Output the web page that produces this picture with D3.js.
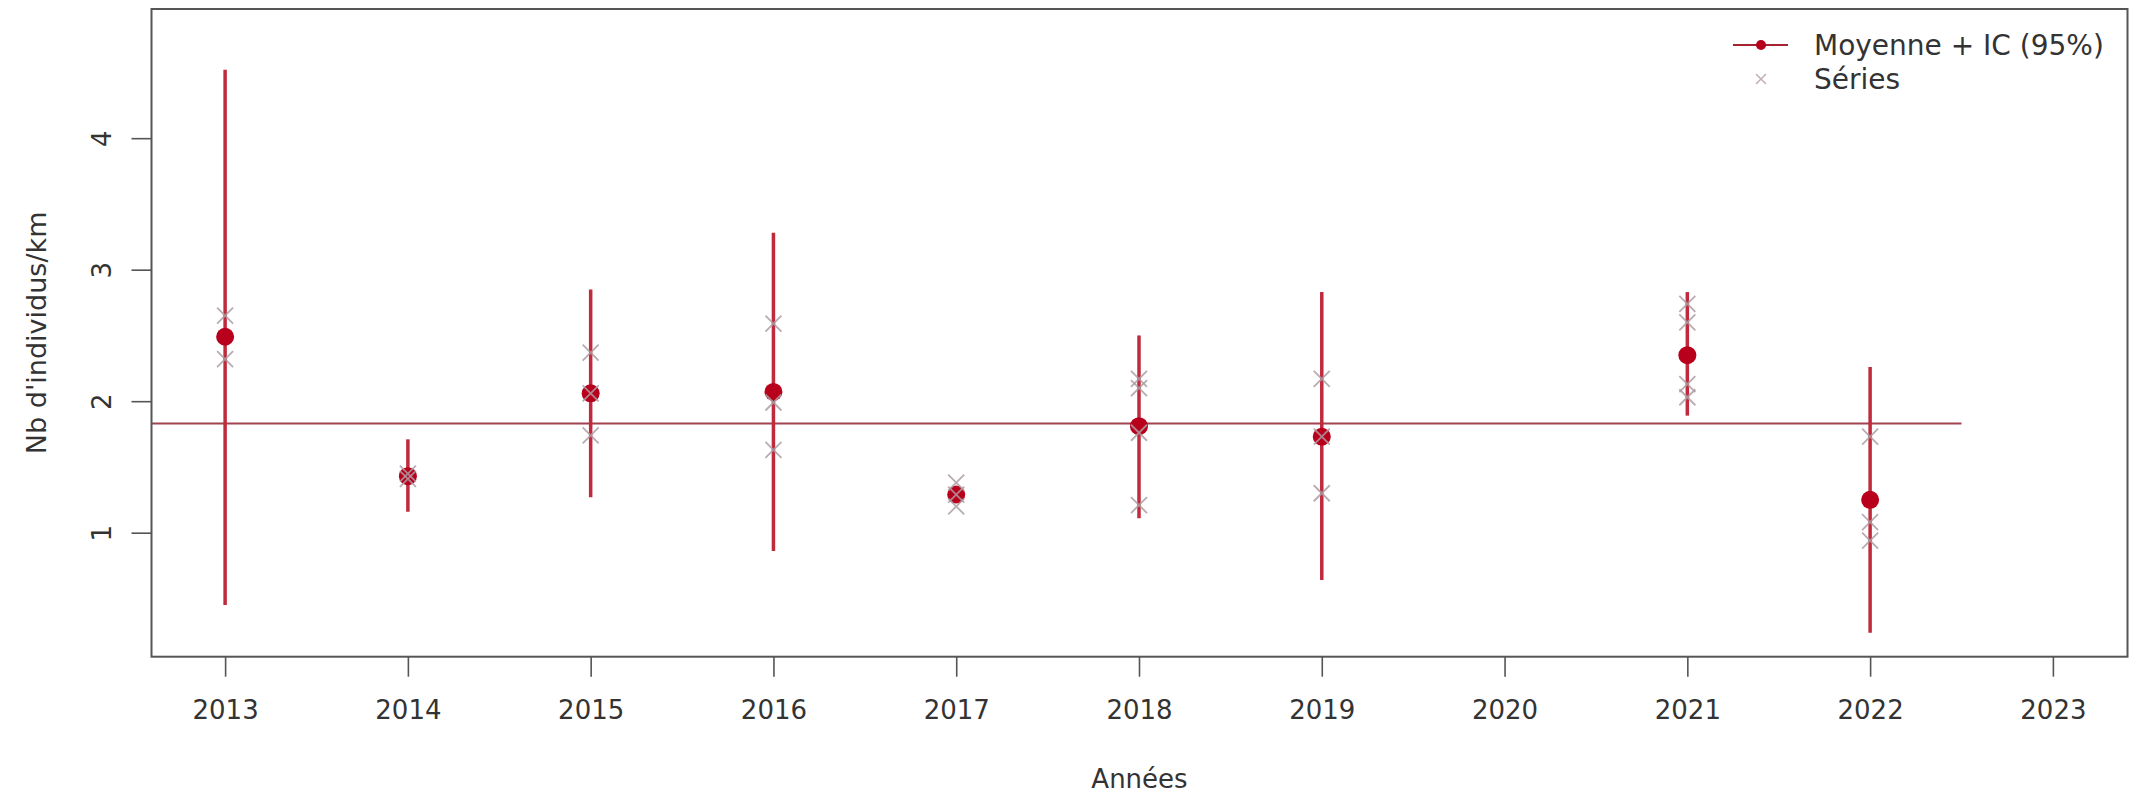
<!DOCTYPE html>
<html>
<head>
<meta charset="utf-8">
<script src="https://cdn.jsdelivr.net/npm/d3@7"></script>
<style>
  html, body { margin: 0; padding: 0; background: #ffffff; }
  svg { display: block; }
  text { font-family: "DejaVu Sans", sans-serif; fill: #333333; }
</style>
</head>
<body>
<svg id="chart" width="2131" height="795"></svg>
<script>
// ---- data ----
const years   = [2013, 2014, 2015, 2016, 2017, 2018, 2019, 2021, 2022];
const means   = [2.49, 1.43, 2.06, 2.07, 1.29, 1.81, 1.73, 2.35, 1.25];
const ciLow   = [0.45, 1.16, 1.27, 0.86, null, 1.11, 0.64, 1.89, 0.24];
const ciHigh  = [4.52, 1.71, 2.85, 3.28, null, 2.50, 2.83, 2.83, 2.26];
const seriesValues = [
  [2.65, 2.32],
  [1.41, 1.45],
  [2.37, 2.06, 1.74],
  [2.59, 1.99, 1.63],
  [1.38, 1.29, 1.20],
  [2.17, 2.10, 1.76, 1.21],
  [2.17, 1.73, 1.30],
  [2.74, 2.60, 2.13, 2.03],
  [1.73, 1.08, 0.94]
];
const xTicks = [2013, 2014, 2015, 2016, 2017, 2018, 2019, 2020, 2021, 2022, 2023];
const yTicks = [1, 2, 3, 4];
const xTitle = "Années";
const yTitle = "Nb d'individus/km";
const legendLabels = ["Moyenne + IC (95%)", "Séries"];
const meanLineSpan = [2012.5, 2022.5];

// ---- layout ----
const svg = d3.select("#chart");
const box = { l: 151.5, r: 2127.5, t: 9, b: 656.7 };
const x = d3.scaleLinear().domain([2012.6, 2023.4]).range([152, 2126]);
const y = d3.scaleLinear().domain([0.057, 4.98]).range([656.7, 9.3]);

const barColor = "#bf2b3d";
const dotColor = "#b8001c";
const crossColor = "#ab9ca3";
const lineColor = "#a3424f";

svg.append("defs").append("clipPath").attr("id", "clip")
  .append("rect").attr("x", box.l).attr("y", box.t)
  .attr("width", box.r - box.l).attr("height", box.b - box.t);

const plot = svg.append("g").attr("clip-path", "url(#clip)");

// overall mean line
const overall = d3.mean(means);
plot.append("line")
  .attr("x1", x(meanLineSpan[0])).attr("x2", x(meanLineSpan[1]))
  .attr("y1", y(overall)).attr("y2", y(overall))
  .attr("stroke", lineColor).attr("stroke-width", 2);

const rows = years.map((yr, i) => ({ yr, m: means[i], lo: ciLow[i], hi: ciHigh[i], s: seriesValues[i] }));

// error bars
plot.selectAll("line.ci").data(rows.filter(d => d.lo != null && d.hi != null)).join("line")
  .attr("class", "ci")
  .attr("x1", d => x(d.yr)).attr("x2", d => x(d.yr))
  .attr("y1", d => y(d.lo)).attr("y2", d => y(d.hi))
  .attr("stroke", barColor).attr("stroke-width", 3.5);

// mean dots
plot.selectAll("circle.mean").data(rows).join("circle")
  .attr("class", "mean")
  .attr("cx", d => x(d.yr)).attr("cy", d => y(d.m)).attr("r", 9)
  .attr("fill", dotColor);

// series crosses
const crossPts = rows.flatMap(d => d.s.map(v => ({ yr: d.yr, v })));
const cs = 8;
plot.selectAll("path.cross").data(crossPts).join("path")
  .attr("class", "cross")
  .attr("transform", d => `translate(${x(d.yr)},${y(d.v)})`)
  .attr("d", `M${-cs},${-cs}L${cs},${cs}M${-cs},${cs}L${cs},${-cs}`)
  .attr("stroke", crossColor).attr("stroke-width", 1.8)
  .attr("fill", "none").attr("opacity", 0.85);

// axes
const xAxis = svg.append("g").attr("transform", `translate(0,${box.b})`)
  .call(d3.axisBottom(x).tickValues(xTicks).tickFormat(d3.format("d")).tickSize(20));
xAxis.select(".domain").remove();
xAxis.selectAll(".tick line").attr("stroke", "#555").attr("stroke-width", 1.6);
xAxis.selectAll("text").attr("y", 62).attr("dy", 0)
  .style("font-size", "26px").attr("fill", "#333");

const yAxis = svg.append("g").attr("transform", `translate(${box.l},0)`)
  .call(d3.axisLeft(y).tickValues(yTicks).tickFormat(d3.format("d")).tickSize(20));
yAxis.select(".domain").remove();
yAxis.selectAll(".tick line").attr("stroke", "#555").attr("stroke-width", 1.6);
yAxis.selectAll("text").attr("x", 0).attr("y", 0).attr("dy", 0)
  .attr("text-anchor", "middle")
  .attr("transform", "translate(-41,0) rotate(-90)")
  .style("font-size", "26px").attr("fill", "#333");

// box
svg.append("rect").attr("x", box.l).attr("y", box.t)
  .attr("width", box.r - box.l).attr("height", box.b - box.t)
  .attr("fill", "none").attr("stroke", "#555").attr("stroke-width", 2);

// titles
svg.append("text").attr("x", (box.l + box.r) / 2).attr("y", 788)
  .attr("text-anchor", "middle").style("font-size", "26px").text(xTitle);
svg.append("text").attr("transform", `translate(46,${(box.t + box.b) / 2}) rotate(-90)`)
  .attr("text-anchor", "middle").style("font-size", "27px").text(yTitle);

// legend
const lg = svg.append("g");
lg.append("line").attr("x1", 1733).attr("x2", 1788).attr("y1", 45).attr("y2", 45)
  .attr("stroke", "#a3232f").attr("stroke-width", 2);
lg.append("circle").attr("cx", 1761).attr("cy", 45).attr("r", 5).attr("fill", dotColor);
lg.append("path").attr("transform", "translate(1761,79)")
  .attr("d", "M-5,-5L5,5M-5,5L5,-5").attr("stroke", "#c2b2b8").attr("stroke-width", 1.6);
lg.selectAll("text").data(legendLabels).join("text")
  .attr("x", 1814).attr("y", (d, i) => 45 + i * 34).attr("dy", "0.36em")
  .style("font-size", "28px").text(d => d);
</script>
</body>
</html>
